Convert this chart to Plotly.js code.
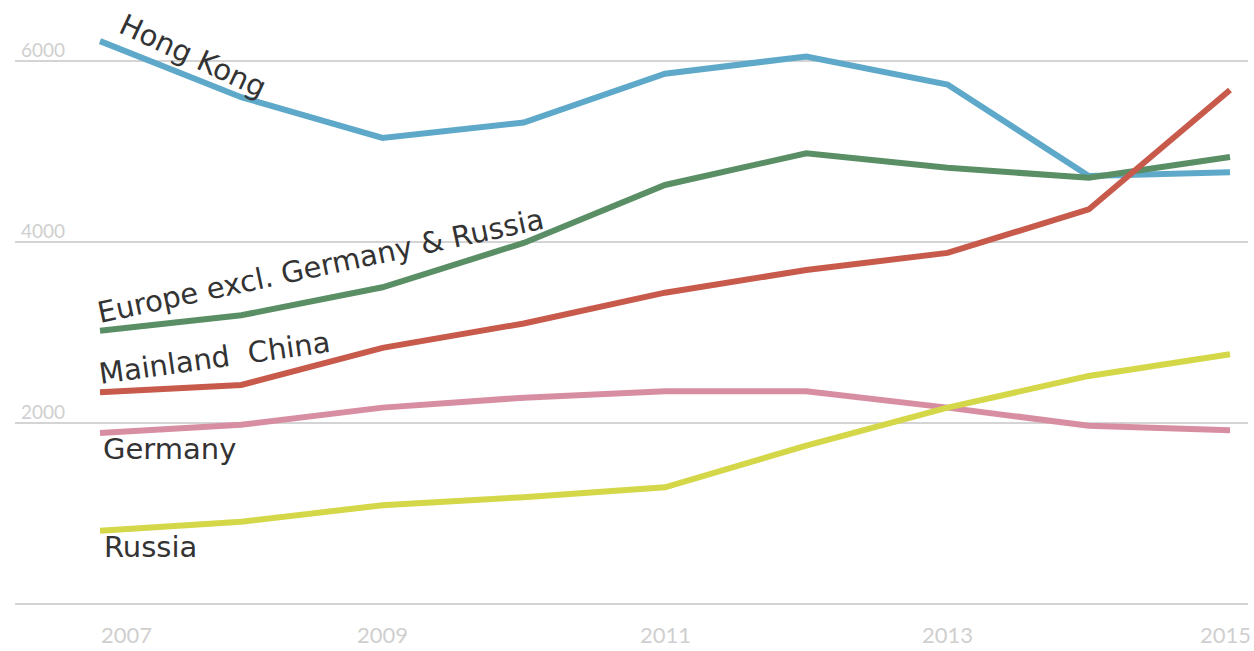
<!DOCTYPE html>
<html>
<head>
<meta charset="utf-8">
<script src="https://cdn.plot.ly/plotly-3.0.1.min.js"></script>
<style>html,body{margin:0;padding:0;background:#fff;}#chart{width:1254px;height:651px;}</style>
</head>
<body>
<div id="chart"></div>
<script>
const years = [2007, 2008, 2009, 2010, 2011, 2012, 2013, 2014, 2015];
const hongKong = [6220, 5600, 5150, 5320, 5860, 6050, 5740, 4730, 4770];
const europeExcl = [3020, 3190, 3500, 3990, 4630, 4980, 4820, 4710, 4940];
const mainlandChina = [2340, 2420, 2830, 3100, 3440, 3690, 3880, 4360, 5680];
const germany = [1890, 1980, 2170, 2280, 2350, 2350, 2170, 1970, 1920];
const russia = [810, 910, 1090, 1180, 1290, 1750, 2170, 2520, 2760];
const seriesNames = ["Hong Kong", "Europe excl. Germany & Russia", "Mainland  China", "Germany", "Russia"];
const xTickVals = [2007, 2009, 2011, 2013, 2015];
const xTickText = ["2007", "2009", "2011", "2013", "2015"];
const yTickVals = [0, 2000, 4000, 6000];
const yTickText = ["", "2000", "4000", "6000"];

const seriesData = [hongKong, europeExcl, mainlandChina, germany, russia];
const colors = ["#5ea9c9", "#5a8f66", "#c85a4c", "#d88ea2", "#d4d748"];

// pixel helpers for label placement (plot area: x 15..1248, y 0..611)
const X0 = 2007 - 85 / 141.25, X1 = 2015 + 18 / 141.25;
const Y0 = -7 / 0.0905, Y1 = 604 / 0.0905;
const px2x = p => 2007 + (p - 100) / 141.25;
const px2y = p => (604 - p) / 0.0905;

const traces = seriesData.map((vals, i) => ({
  x: years, y: vals, type: "scatter", mode: "lines", name: seriesNames[i],
  line: {color: colors[i], width: 6}, hoverinfo: "skip"
}));

const labelFont = {family: "DejaVu Sans, Verdana, sans-serif", size: 29, color: "#333"};
const labelPos = [
  {cx: 193, cy: 56, angle: 25},
  {cx: 320, cy: 266, angle: -12},
  {cx: 214, cy: 358, angle: -8},
  {cx: 169, cy: 449, angle: 0},
  {cx: 150, cy: 547, angle: 0}
];
const annotations = seriesNames.map((n, i) => ({
  text: n, xref: "x", yref: "y", x: px2x(labelPos[i].cx), y: px2y(labelPos[i].cy),
  xanchor: "center", yanchor: "middle", showarrow: false, textangle: labelPos[i].angle,
  font: labelFont
}));
xTickVals.forEach((v, i) => {
  annotations.push({
    text: xTickText[i], xref: "x", yref: "paper", x: v, y: -24 / 611,
    xanchor: i === 0 ? "left" : "center", yanchor: "middle", showarrow: false,
    borderpad: 0, xshift: i === xTickVals.length - 1 ? -5 : 0,
    font: {family: "Lato, Open Sans, sans-serif", size: 22, color: "#cfcfcf"}
  });
});
yTickVals.forEach((v, i) => {
  if (!yTickText[i]) return;
  annotations.push({
    text: yTickText[i], xref: "paper", yref: "y", x: 0.003, y: v,
    xanchor: "left", yanchor: "bottom", yshift: -2, showarrow: false,
    font: {family: "Lato, Open Sans, sans-serif", size: 19, color: "#cfcfcf"}
  });
});

const layout = {
  width: 1254, height: 651,
  margin: {l: 15, r: 6, t: 0, b: 40},
  paper_bgcolor: "#fff", plot_bgcolor: "#fff",
  showlegend: false,
  xaxis: {range: [X0, X1], showgrid: false, zeroline: false, showticklabels: false, ticks: "", showline: false, fixedrange: true},
  yaxis: {range: [Y0, Y1], tickvals: yTickVals, showticklabels: false, gridcolor: "#d4d4d4", gridwidth: 2, zeroline: false, showline: false, ticks: "", fixedrange: true},
  annotations: annotations
};

Plotly.newPlot("chart", traces, layout, {staticPlot: true, displayModeBar: false});
</script>
</body>
</html>
